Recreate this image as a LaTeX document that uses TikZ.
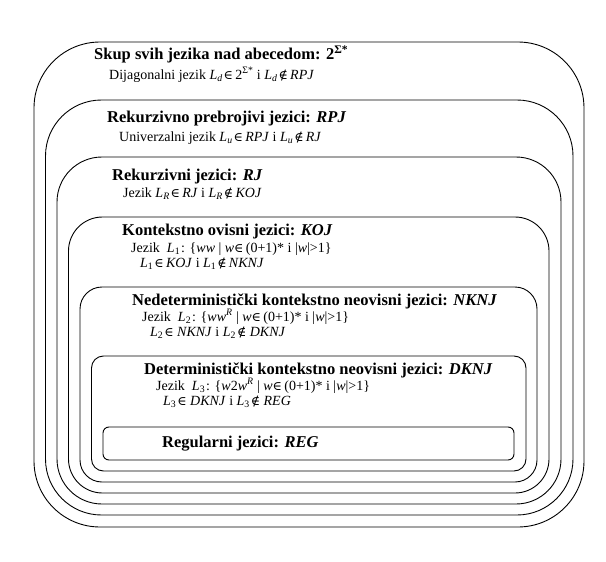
\documentclass[tikz,border=0pt]{standalone}
\usepackage{fontspec}
\setmainfont{Liberation Serif}
\newfontfamily\simbol[Scale=0.9]{DejaVu Serif}
\usepackage{tikz}

\newcommand{\Lj}[1]{\textit{L}\textsubscript{#1}\kern1pt}
\newcommand{\el}{{\simbol ∈}}
\newcommand{\nel}{{\simbol ∉}}
\tikzset{
  naslov/.style={anchor=west, inner sep=0pt, text height=12pt, text depth=3pt,
    font=\fontsize{16.5}{18}\selectfont\bfseries},
  opis/.style={anchor=west, inner sep=0pt, text height=10.5pt, text depth=2.5pt,
    font=\fontsize{14}{16}\selectfont}
}

\begin{document}
\begin{tikzpicture}[x=1pt,y=-1pt]
    \useasboundingbox (0,0) rectangle (606,562);
    \foreach \l/\t/\r/\b/\rc in {34/42/584/527/66, 45.5/100/573/515/56,
      57/157/561/504/45, 68.5/217/549/493/34, 80/287/537/482/22,
      91.5/356/526/471/12, 103/427/514/460/6}
    \draw[line width=.9pt,rounded corners=\rc pt] (\l,\t) rectangle (\r,\b);
    % skup svih jezika
    \node[naslov] (sve) at (94,55) {Skup svih jezika nad abecedom: 2\textsuperscript{Σ*}};
    \node[opis] (dijag) at (109,75) {Dijagonalni jezik \Lj{\textit{d}}\el\,2\textsuperscript{Σ*} i \Lj{\textit{d}}\nel\,\textit{RPJ}};
    % RPJ
    \node[naslov] (rpj) at (107,118) {Rekurzivno prebrojivi jezici: \textit{RPJ}};
    \node[opis] (univ) at (119,137) {Univerzalni jezik \Lj{\textit{u}}\el\,\textit{RPJ} i \Lj{\textit{u}}\nel\,\textit{RJ}};
    % RJ
    \node[naslov] (rj) at (112,176) {Rekurzivni jezici: \textit{RJ}};
    \node[opis] (lr) at (123,193) {Jezik \Lj{\textit{R}}\el\,\textit{RJ} i \Lj{\textit{R}}\nel\,\textit{KOJ}};
    % KOJ
    \node[naslov] (koj) at (122,231) {Kontekstno ovisni jezici: \textit{KOJ}};
    \node[opis] (l1) at (131,248) {Jezik~ \Lj{1}: \{\textit{ww} | \textit{w}\el\,(0+1)* i |\textit{w}|>1\}};
    \node[opis] (l1b) at (140,263) {\Lj{1}\el\,\textit{KOJ} i \Lj{1}\nel\,\textit{NKNJ}};
    % NKNJ
    \node[naslov] (nknj) at (132,301) {Nedeterministički kontekstno neovisni jezici: \textit{NKNJ}};
    \node[opis] (l2) at (142,317) {Jezik~ \Lj{2}: \{\textit{ww}\textsuperscript{\textit{R}} | \textit{w}\el\,(0+1)* i |\textit{w}|>1\}};
    \node[opis] (l2b) at (150,332) {\Lj{2}\el\ \textit{NKNJ} i \Lj{2}\nel\ \textit{DKNJ}};
    % DKNJ
    \node[naslov] (dknj) at (144,370) {Deterministički kontekstno neovisni jezici: \textit{DKNJ}};
    \node[opis] (l3) at (156,386) {Jezik~ \Lj{3}: \{\textit{w}2\textit{w}\textsuperscript{\textit{R}} | \textit{w}\el\,(0+1)* i |\textit{w}|>1\}};
    \node[opis] (l3b) at (163,401) {\Lj{3}\el\ \textit{DKNJ} i \Lj{3}\nel\ \textit{REG}};
    % REG
    \node[naslov] (reg) at (162,443) {Regularni jezici: \textit{REG}};
  \end{tikzpicture}
\end{document}
